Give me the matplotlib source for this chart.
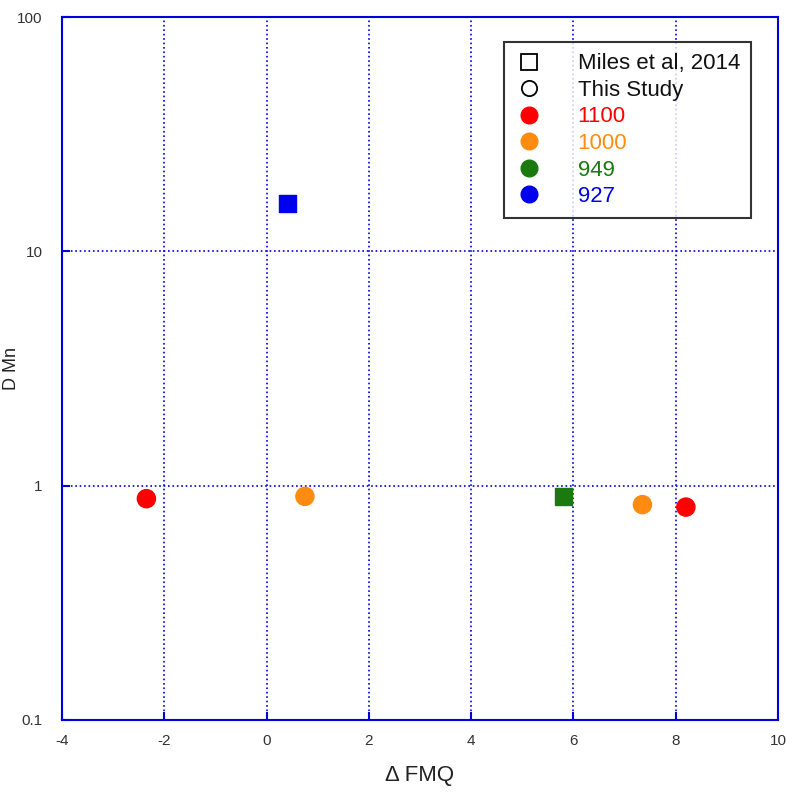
import matplotlib
matplotlib.use("Agg")
import matplotlib.pyplot as plt
from matplotlib.lines import Line2D

# data
miles_x = [0.4, 5.8]
miles_y = [16.0, 0.90]
miles_col = ['#0000ee', '#1a7a10']

study_x = [-2.35, 0.75, 7.35, 8.2]
study_y = [0.88, 0.90, 0.83, 0.81]
study_col = ['#ff0000', '#ff8c10', '#ff8c10', '#ff0000']

temps = ['1100', '1000', '949', '927']
temp_col = ['#ff0000', '#ff8c10', '#1a7a10', '#0000ee']

plt.rcParams['font.family'] = ['Liberation Sans', 'DejaVu Sans']
plt.rcParams['axes.unicode_minus'] = False

fig = plt.figure(figsize=(7.93, 7.99), dpi=100)
ax = fig.add_axes([0.0782, 0.0989, 0.9028, 0.8798])

ax.scatter(miles_x, miles_y, marker='s', s=150, c=miles_col, zorder=3)
ax.scatter(study_x, study_y, marker='o', s=170, c=study_col, zorder=3)

ax.set_yscale('log')
ax.set_xlim(-4, 10)
ax.set_ylim(0.1, 100)
ax.set_xticks(range(-4, 11, 2))
ax.set_yticks([0.1, 1, 10, 100])
ax.set_yticklabels(['0.1', '1', '10', '100'])
ax.minorticks_off()
ax.tick_params(direction='in', length=6, width=1.5, color='#0000dd', labelsize=11, labelcolor='#333333', pad=10)
ax.tick_params(axis='y', pad=14)
for s in ax.spines.values():
    s.set_color('#0000dd')
    s.set_linewidth(1.5)
ax.grid(True, color='#0000dd', linestyle=':', linewidth=1.2)

ax.set_xlabel('\u0394 FMQ', fontsize=16, color='#222222', labelpad=12)
ax.set_ylabel('D Mn', fontsize=13, color='#222222')
ax.yaxis.set_label_coords(-0.058, 0.5)

handles = [Line2D([], [], marker='s', ls='', mfc='white', mec='black', ms=11, mew=1.3),
           Line2D([], [], marker='o', ls='', mfc='white', mec='black', ms=11, mew=1.3)]
for c in temp_col:
    handles.append(Line2D([], [], marker='o', ls='', color=c, ms=12))
labels = ['Miles et al, 2014', 'This Study'] + temps
leg = ax.legend(handles, labels, loc='upper right', bbox_to_anchor=(0.978, 0.98),
                fontsize=16, frameon=True, fancybox=False, edgecolor='black',
                handlelength=1.2, handletextpad=1.6, labelspacing=0.25, borderpad=0.5)
leg.get_frame().set_linewidth(1.5)
text_cols = ['#111111', '#111111'] + temp_col
for t, c in zip(leg.get_texts(), text_cols):
    t.set_color(c)

fig.savefig('out.png', dpi=100)
